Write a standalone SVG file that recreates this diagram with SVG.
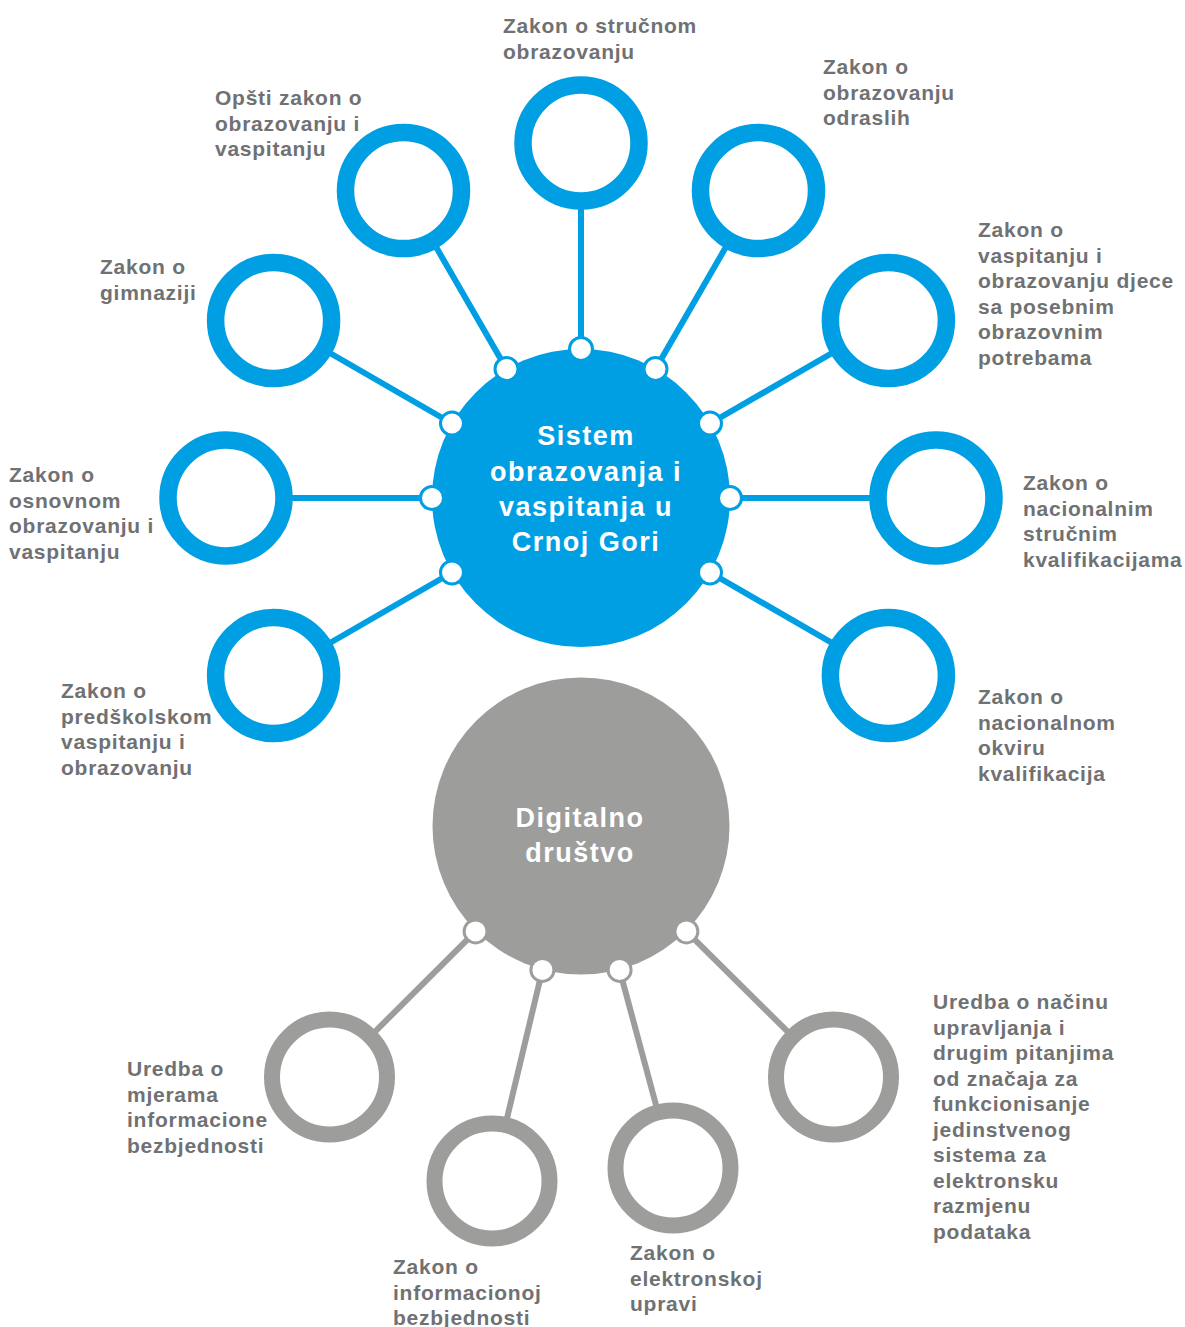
<svg xmlns="http://www.w3.org/2000/svg" width="1185" height="1327" viewBox="0 0 1185 1327">
<defs>
<style>
.lbl{font-family:"Liberation Sans",Arial,sans-serif;font-weight:bold;font-size:21px;letter-spacing:0.75px;fill:#707173}
.hubt{font-family:"Liberation Sans",Arial,sans-serif;font-weight:bold;font-size:27px;letter-spacing:1.5px;fill:#ffffff;text-anchor:middle}
.ringB{fill:#ffffff;stroke:#009FE3;stroke-width:17.5}
.ringG{fill:#ffffff;stroke:#9D9D9C;stroke-width:16}
.lnB{stroke:#009FE3;stroke-width:6;marker-start:url(#dotB)}
.lnG{stroke:#9D9D9C;stroke-width:6;marker-start:url(#dotG)}
</style>
<marker id="dotB" markerWidth="30" markerHeight="30" refX="15" refY="15" markerUnits="userSpaceOnUse" orient="0">
<circle cx="15" cy="15" r="11.5" fill="#ffffff" stroke="#009FE3" stroke-width="3"/>
</marker>
<marker id="dotG" markerWidth="30" markerHeight="30" refX="15" refY="15" markerUnits="userSpaceOnUse" orient="0">
<circle cx="15" cy="15" r="11.5" fill="#ffffff" stroke="#9D9D9C" stroke-width="3"/>
</marker>
</defs>
<rect width="1185" height="1327" fill="#ffffff"/>

<g id="hub-sistem">
<circle cx="581" cy="498" r="149" fill="#009FE3"/>
<text class="hubt"><tspan x="586" y="445">Sistem</tspan><tspan x="586" y="481">obrazovanja i</tspan><tspan x="586" y="516">vaspitanja u</tspan><tspan x="586" y="551">Crnoj Gori</tspan></text>
</g>
<g id="hub-digitalno">
<circle cx="581" cy="826" r="148.5" fill="#9D9D9C"/>
<text class="hubt"><tspan x="580" y="827">Digitalno</tspan><tspan x="580" y="862">društvo</tspan></text>
</g>

<g id="connectors">
<line class="lnB" x1="581" y1="349" x2="581" y2="143"/>
<line class="lnB" x1="655.5" y1="369" x2="758.5" y2="190.6"/>
<line class="lnB" x1="710" y1="423.5" x2="888.4" y2="320.5"/>
<line class="lnB" x1="730" y1="498" x2="936" y2="498"/>
<line class="lnB" x1="710" y1="572.5" x2="888.4" y2="675.5"/>
<line class="lnB" x1="506.5" y1="369" x2="403.5" y2="190.6"/>
<line class="lnB" x1="452" y1="423.5" x2="273.6" y2="320.5"/>
<line class="lnB" x1="432" y1="498" x2="226" y2="498"/>
<line class="lnB" x1="452" y1="572.5" x2="273.6" y2="675.5"/>
<line class="lnG" x1="686.4" y1="931.4" x2="833.5" y2="1077"/>
<line class="lnG" x1="619.6" y1="969.9" x2="673" y2="1168"/>
<line class="lnG" x1="542.4" y1="969.9" x2="492" y2="1181"/>
<line class="lnG" x1="475.6" y1="931.4" x2="329.5" y2="1077"/>
</g>

<g id="n-strucno">
<circle class="ringB" cx="581" cy="143" r="58"/>
<text class="lbl"><tspan x="503" y="33">Zakon o stručnom</tspan><tspan x="503" y="58.5">obrazovanju</tspan></text>
</g>
<g id="n-odrasli">
<circle class="ringB" cx="758.5" cy="190.6" r="58"/>
<text class="lbl"><tspan x="823" y="74">Zakon o</tspan><tspan x="823" y="99.5">obrazovanju</tspan><tspan x="823" y="125">odraslih</tspan></text>
</g>
<g id="n-posebne">
<circle class="ringB" cx="888.4" cy="320.5" r="58"/>
<text class="lbl"><tspan x="978" y="237">Zakon o</tspan><tspan x="978" y="262.5">vaspitanju i</tspan><tspan x="978" y="288">obrazovanju djece</tspan><tspan x="978" y="313.5">sa posebnim</tspan><tspan x="978" y="339">obrazovnim</tspan><tspan x="978" y="364.5">potrebama</tspan></text>
</g>
<g id="n-nsk">
<circle class="ringB" cx="936" cy="498" r="58"/>
<text class="lbl"><tspan x="1023" y="490">Zakon o</tspan><tspan x="1023" y="515.5">nacionalnim</tspan><tspan x="1023" y="541">stručnim</tspan><tspan x="1023" y="566.5">kvalifikacijama</tspan></text>
</g>
<g id="n-nok">
<circle class="ringB" cx="888.4" cy="675.5" r="58"/>
<text class="lbl"><tspan x="978" y="704">Zakon o</tspan><tspan x="978" y="729.5">nacionalnom</tspan><tspan x="978" y="755">okviru</tspan><tspan x="978" y="780.5">kvalifikacija</tspan></text>
</g>
<g id="n-opsti">
<circle class="ringB" cx="403.5" cy="190.6" r="58"/>
<text class="lbl"><tspan x="215" y="105">Opšti zakon o</tspan><tspan x="215" y="130.5">obrazovanju i</tspan><tspan x="215" y="156">vaspitanju</tspan></text>
</g>
<g id="n-gimnazija">
<circle class="ringB" cx="273.6" cy="320.5" r="58"/>
<text class="lbl"><tspan x="100" y="274">Zakon o</tspan><tspan x="100" y="299.5">gimnaziji</tspan></text>
</g>
<g id="n-osnovno">
<circle class="ringB" cx="226" cy="498" r="58"/>
<text class="lbl"><tspan x="9" y="482">Zakon o</tspan><tspan x="9" y="507.5">osnovnom</tspan><tspan x="9" y="533">obrazovanju i</tspan><tspan x="9" y="558.5">vaspitanju</tspan></text>
</g>
<g id="n-predskolsko">
<circle class="ringB" cx="273.6" cy="675.5" r="58"/>
<text class="lbl"><tspan x="61" y="698">Zakon o</tspan><tspan x="61" y="723.5">predškolskom</tspan><tspan x="61" y="749">vaspitanju i</tspan><tspan x="61" y="774.5">obrazovanju</tspan></text>
</g>

<g id="n-mjere">
<circle class="ringG" cx="329.5" cy="1077" r="57.5"/>
<text class="lbl"><tspan x="127" y="1076">Uredba o</tspan><tspan x="127" y="1101.5">mjerama</tspan><tspan x="127" y="1127">informacione</tspan><tspan x="127" y="1152.5">bezbjednosti</tspan></text>
</g>
<g id="n-infobez">
<circle class="ringG" cx="492" cy="1181" r="57.5"/>
<text class="lbl"><tspan x="393" y="1274">Zakon o</tspan><tspan x="393" y="1299.5">informacionoj</tspan><tspan x="393" y="1325">bezbjednosti</tspan></text>
</g>
<g id="n-euprava">
<circle class="ringG" cx="673" cy="1168" r="57.5"/>
<text class="lbl"><tspan x="630" y="1260">Zakon o</tspan><tspan x="630" y="1285.5">elektronskoj</tspan><tspan x="630" y="1311">upravi</tspan></text>
</g>
<g id="n-uredba">
<circle class="ringG" cx="833.5" cy="1077" r="57.5"/>
<text class="lbl"><tspan x="933" y="1009">Uredba o načinu</tspan><tspan x="933" y="1034.5">upravljanja i</tspan><tspan x="933" y="1060">drugim pitanjima</tspan><tspan x="933" y="1085.5">od značaja za</tspan><tspan x="933" y="1111">funkcionisanje</tspan><tspan x="933" y="1136.5">jedinstvenog</tspan><tspan x="933" y="1162">sistema za</tspan><tspan x="933" y="1187.5">elektronsku</tspan><tspan x="933" y="1213">razmjenu</tspan><tspan x="933" y="1238.5">podataka</tspan></text>
</g>
</svg>
